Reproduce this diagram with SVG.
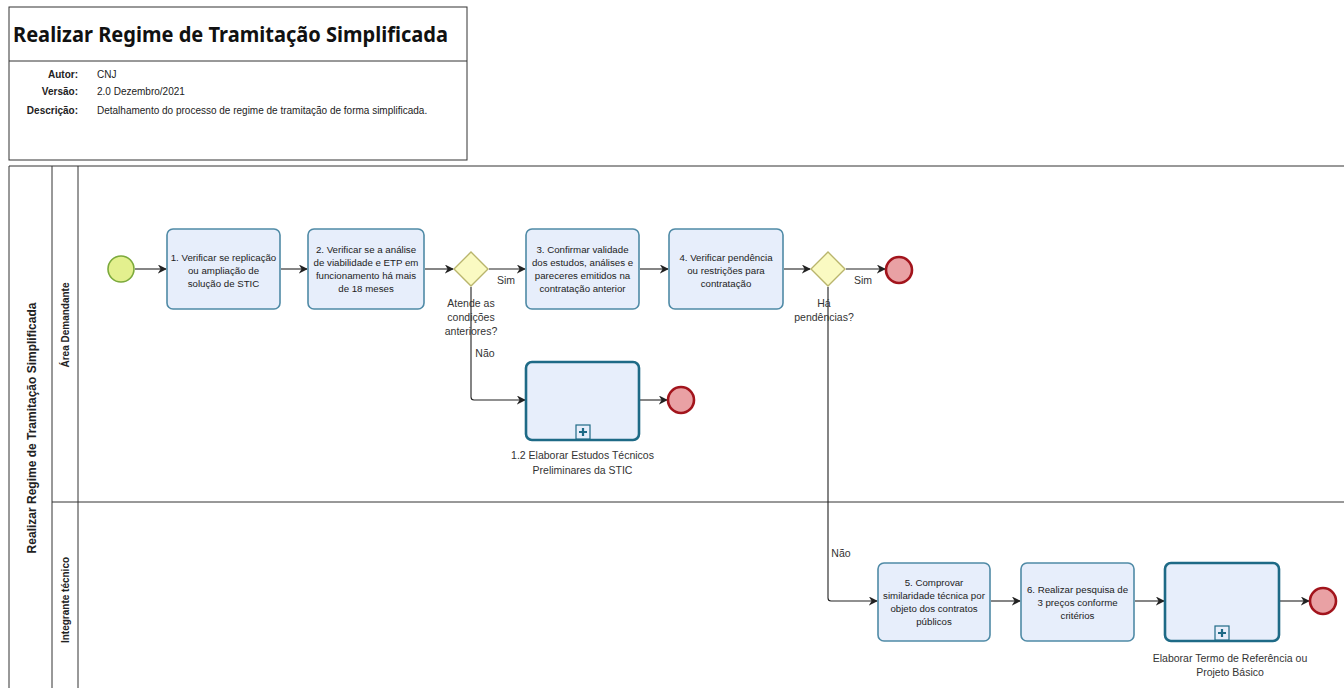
<svg xmlns="http://www.w3.org/2000/svg" width="1344" height="688" viewBox="0 0 1344 688">
<defs>
<style>
text{font-family:"Liberation Sans",Arial,sans-serif;fill:#222;}
.t{font-size:9.7px;text-anchor:middle;}
.lbl{font-size:10.5px;text-anchor:middle;fill:#333;}
.task{fill:#e7eefb;stroke:#4f8aa6;stroke-width:1.6;}
.sub{fill:#e7eefb;stroke:#1e6a86;stroke-width:2.6;}
.gw{fill:#fafac2;stroke:#b9b56c;stroke-width:1.4;}
.start{fill:#e3f08e;stroke:#7caa3c;stroke-width:1.6;}
.end{fill:#e9a1a4;stroke:#a2141c;stroke-width:2.6;}
.ln{stroke:#333;stroke-width:1;fill:none;}
.flow{stroke:#222;stroke-width:1.1;fill:none;marker-end:url(#arr);}
.hdr{font-size:10px;}
.lane{font-size:10px;font-weight:bold;text-anchor:middle;}
</style>
<marker id="arr" viewBox="0 0 10 10" refX="9" refY="5" markerWidth="9" markerHeight="9" markerUnits="userSpaceOnUse" orient="auto">
<path d="M0,0 L10,5 L0,10 L3,5 Z" fill="#222"/>
</marker>
</defs>
<rect width="1344" height="688" fill="#ffffff"/>

<g id="header">
<rect x="9" y="7" width="458" height="153" fill="#fff" stroke="#333" stroke-width="1"/>
<line x1="9" y1="61" x2="467" y2="61" stroke="#333" stroke-width="1"/>
<text x="13" y="42" font-size="22" font-weight="bold" textLength="435" lengthAdjust="spacingAndGlyphs" style="fill:#111;font-family:'Noto Sans','Liberation Sans',sans-serif">Realizar Regime de Tramitação Simplificada</text>
<text x="78" y="78" class="hdr" text-anchor="end" font-weight="bold">Autor:</text>
<text x="97" y="78" class="hdr">CNJ</text>
<text x="78" y="95" class="hdr" text-anchor="end" font-weight="bold">Versão:</text>
<text x="97" y="95" class="hdr">2.0 Dezembro/2021</text>
<text x="78" y="114" class="hdr" text-anchor="end" font-weight="bold">Descrição:</text>
<text x="97" y="114" class="hdr">Detalhamento do processo de regime de tramitação de forma simplificada.</text>
</g>

<g id="pool">
<line x1="9" y1="166" x2="1344" y2="166" class="ln"/>
<line x1="9" y1="166" x2="9" y2="688" class="ln"/>
<line x1="52" y1="166" x2="52" y2="688" class="ln"/>
<line x1="78" y1="166" x2="78" y2="688" class="ln"/>
<line x1="52" y1="502" x2="1344" y2="502" class="ln"/>
<text transform="translate(36,428) rotate(-90)" font-size="12" font-weight="bold" text-anchor="middle">Realizar Regime de Tramitação Simplificada</text>
<text transform="translate(69,325) rotate(-90)" class="lane">Área Demandante</text>
<text transform="translate(69,600) rotate(-90)" class="lane">Integrante técnico</text>
</g>

<g id="connectors">
<line x1="135" y1="269" x2="166" y2="269" class="flow"/>
<line x1="281" y1="269" x2="307" y2="269" class="flow"/>
<line x1="425" y1="269" x2="453" y2="269" class="flow"/>
<line x1="489" y1="269" x2="525" y2="269" class="flow"/>
<line x1="640" y1="269" x2="668" y2="269" class="flow"/>
<line x1="784" y1="269" x2="810" y2="269" class="flow"/>
<line x1="846" y1="269" x2="885" y2="269" class="flow"/>
<path d="M471,287 L471,397 Q471,400 474,400 L525,400" class="flow"/>
<line x1="640" y1="400" x2="667" y2="400" class="flow"/>
<path d="M828,287 L828,598 Q828,601 831,601 L877,601" class="flow"/>
<line x1="991" y1="601" x2="1020" y2="601" class="flow"/>
<line x1="1135" y1="601" x2="1164" y2="601" class="flow"/>
<line x1="1280" y1="601" x2="1309" y2="601" class="flow"/>
<text x="506" y="284" class="lbl">Sim</text>
<text x="485" y="357" class="lbl">Não</text>
<text x="863" y="284" class="lbl">Sim</text>
<text x="841" y="557" class="lbl">Não</text>
</g>

<g id="start">
<circle cx="121" cy="269" r="13" class="start"/>
</g>

<g id="task1">
<rect x="167" y="229" width="113" height="80" rx="6" class="task"/>
<text class="t"><tspan x="223.5" y="261">1. Verificar se replicação</tspan><tspan x="223.5" y="274">ou ampliação de</tspan><tspan x="223.5" y="287">solução de STIC</tspan></text>
</g>

<g id="task2">
<rect x="308" y="229" width="116" height="80" rx="6" class="task"/>
<text class="t"><tspan x="366" y="253">2. Verificar se a análise</tspan><tspan x="366" y="266">de viabilidade e ETP em</tspan><tspan x="366" y="279">funcionamento há mais</tspan><tspan x="366" y="292">de 18 meses</tspan></text>
</g>

<g id="gateway1">
<polygon points="471,252 488,269 471,286 454,269" class="gw"/>
<text class="lbl"><tspan x="471" y="307">Atende  as</tspan><tspan x="471" y="321">condições</tspan><tspan x="471" y="335">anteriores?</tspan></text>
</g>

<g id="task3">
<rect x="526" y="229" width="113" height="80" rx="6" class="task"/>
<text class="t"><tspan x="582.5" y="253">3. Confirmar validade</tspan><tspan x="582.5" y="266">dos estudos, análises e</tspan><tspan x="582.5" y="279">pareceres emitidos na</tspan><tspan x="582.5" y="292">contratação anterior</tspan></text>
</g>

<g id="task4">
<rect x="669" y="229" width="114" height="80" rx="6" class="task"/>
<text class="t"><tspan x="726" y="261">4. Verificar pendência</tspan><tspan x="726" y="274">ou restrições para</tspan><tspan x="726" y="287">contratação</tspan></text>
</g>

<g id="gateway2">
<polygon points="828,252 845,269 828,286 811,269" class="gw"/>
<text class="lbl"><tspan x="824" y="307">Há</tspan><tspan x="824" y="321">pendências?</tspan></text>
</g>

<g id="end1">
<circle cx="899" cy="270" r="13" class="end"/>
</g>

<g id="sub1">
<rect x="526" y="362" width="113" height="78" rx="6" class="sub"/>
<rect x="576" y="425" width="14" height="14" fill="#e7eefb" stroke="#1e6a86" stroke-width="1.2"/>
<path d="M583,428 v8 M579,432 h8" stroke="#1e6a86" stroke-width="2.2"/>
<text class="lbl"><tspan x="582.5" y="459">1.2 Elaborar Estudos Técnicos</tspan><tspan x="582.5" y="474">Preliminares da STIC</tspan></text>
</g>

<g id="end2">
<circle cx="681" cy="400" r="13" class="end"/>
</g>

<g id="task5">
<rect x="878" y="563" width="112" height="78" rx="6" class="task"/>
<text class="t"><tspan x="934" y="586">5. Comprovar</tspan><tspan x="934" y="599">similaridade técnica por</tspan><tspan x="934" y="612">objeto dos contratos</tspan><tspan x="934" y="625">públicos</tspan></text>
</g>

<g id="task6">
<rect x="1021" y="563" width="113" height="78" rx="6" class="task"/>
<text class="t"><tspan x="1077.5" y="593">6. Realizar pesquisa de</tspan><tspan x="1077.5" y="606">3 preços conforme</tspan><tspan x="1077.5" y="619">critérios</tspan></text>
</g>

<g id="sub2">
<rect x="1165" y="563" width="114" height="78" rx="6" class="sub"/>
<rect x="1215" y="626" width="14" height="14" fill="#e7eefb" stroke="#1e6a86" stroke-width="1.2"/>
<path d="M1222,629 v8 M1218,633 h8" stroke="#1e6a86" stroke-width="2.2"/>
<text class="lbl"><tspan x="1230" y="662">Elaborar Termo de Referência ou</tspan><tspan x="1230" y="676">Projeto Básico</tspan></text>
</g>

<g id="end3">
<circle cx="1323" cy="601" r="13" class="end"/>
</g>
</svg>
